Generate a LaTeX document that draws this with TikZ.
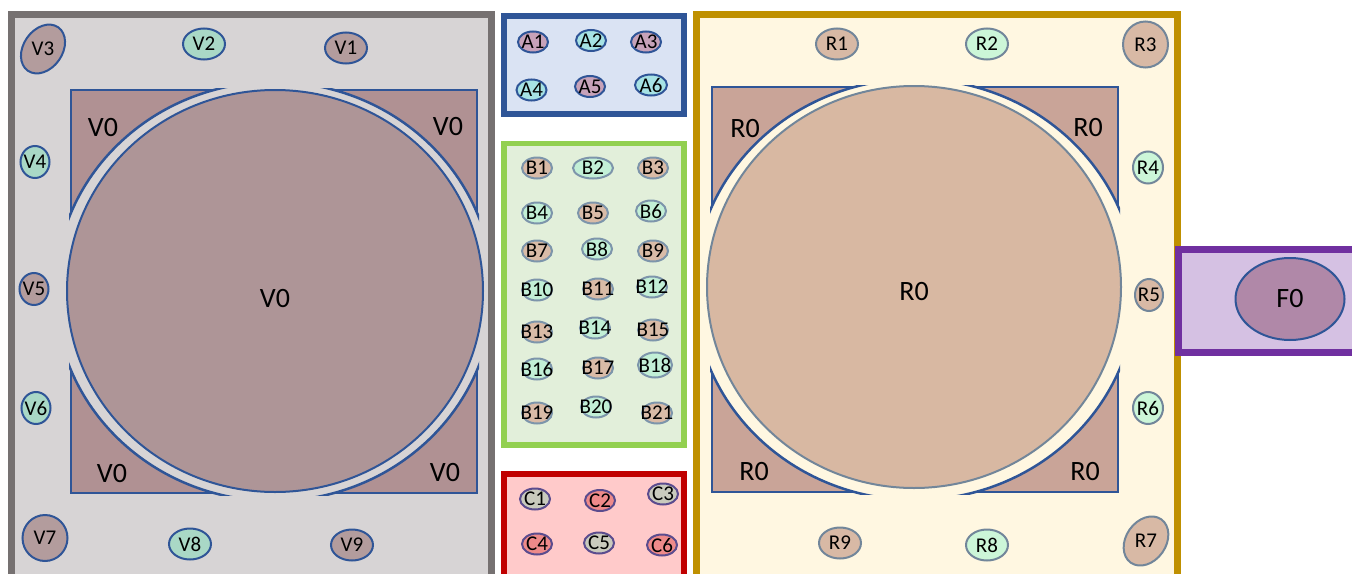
\documentclass[tikz,border=0pt]{standalone}
\usepackage{fontspec}
\setmainfont{Carlito}
\usetikzlibrary{shapes}

\definecolor{vframe}{HTML}{767171}
\definecolor{vback}{HTML}{D7D4D5}
\definecolor{vcorner}{HTML}{B09193}
\definecolor{vdisc}{HTML}{AE9597}
\definecolor{vbrown}{HTML}{B39C9D}
\definecolor{vgreen}{HTML}{A9D8C6}
\definecolor{ringline}{HTML}{2F5597}
\definecolor{aframe}{HTML}{2F5597}
\definecolor{aback}{HTML}{DAE3F3}
\definecolor{amauve}{HTML}{C7A2B9}
\definecolor{acyan}{HTML}{A6E2E4}
\definecolor{bframe}{HTML}{92D050}
\definecolor{bback}{HTML}{E2EFDA}
\definecolor{btan}{HTML}{D9BBA7}
\definecolor{bgreen}{HTML}{C2EFD6}
\definecolor{bline}{HTML}{7D95AB}
\definecolor{cframe}{HTML}{C00000}
\definecolor{cback}{HTML}{FFCACA}
\definecolor{cgrey}{HTML}{C9CABD}
\definecolor{cred}{HTML}{EE8A8A}
\definecolor{cline}{HTML}{5B4C8E}
\definecolor{rframe}{HTML}{BF9000}
\definecolor{rback}{HTML}{FFF7E1}
\definecolor{rcorner}{HTML}{C9A498}
\definecolor{rdisc}{HTML}{D8B8A2}
\definecolor{rtan}{HTML}{D8B9A5}
\definecolor{rgreen}{HTML}{CCF6D8}
\definecolor{rline}{HTML}{72869A}
\definecolor{fframe}{HTML}{7030A0}
\definecolor{fback}{HTML}{D5C1E3}
\definecolor{fdisc}{HTML}{B088A8}

\begin{document}
\begin{tikzpicture}[x=1pt, y=-1pt,
	box/.style={line width=7pt},
	oval/.style={ellipse, draw, line width=2pt, inner sep=0pt, minimum width=42pt, minimum height=31pt},
	dot/.style={oval, minimum width=29pt, minimum height=32pt},
	chip/.style={ellipse, draw, line width=2pt, inner sep=0pt, minimum width=30pt, minimum height=21pt},
	ovaltext/.style={font=\fontsize{21}{24}\selectfont, inner sep=0pt, draw=none},
	chiptext/.style={font=\fontsize{21}{23}\selectfont, inner sep=0pt, draw=none},
	bigtext/.style={font=\fontsize{28}{32}\selectfont, inner sep=0pt, draw=none}]
	
	\useasboundingbox (0,0) rectangle (1352,573);
	\clip (0,0) rectangle (1352,573);
	
	% V block
	\filldraw[box, draw=vframe, fill=vback] (11,14.5) rectangle (491,600);
	\filldraw[fill=vcorner, draw=ringline, line width=2.5pt] (71,90) rectangle (477,493);
	\begin{scope}
		\clip (69,88) rectangle (479,495);
		\filldraw[fill=vback, draw=ringline, line width=2.5pt] (274,291.5) ellipse [x radius=219, y radius=209.5];
	\end{scope}
	\node (v0) at (275,291) [ellipse, draw=ringline, fill=vdisc, line width=2pt, minimum width=416pt, minimum height=402pt, label={[bigtext, yshift=-8pt]center:V0}]{};
	\node (v0nw) at (103,128) [bigtext]{V0};
	\node (v0ne) at (448,127) [bigtext]{V0};
	\node (v0sw) at (112,474) [bigtext]{V0};
	\node (v0se) at (445,473) [bigtext]{V0};
	
	\begin{scope}[every label/.style={ovaltext}, every node/.append style={draw=ringline}]
		\node (v1) at (346,48) [oval, fill=vbrown, label=center:V1]{};
		\node (v2) at (204,44) [oval, fill=vgreen, label=center:V2]{};
		\node (v3) at (43,49) [oval, fill=vbrown, minimum width=53pt, minimum height=39pt, rotate=55, label=center:V3]{};
		\node (v4) at (35,162) [dot, fill=vgreen, label=center:V4]{};
		\node (v5) at (34,289) [dot, fill=vbrown, label=center:V5]{};
		\node (v6) at (36,408) [dot, fill=vgreen, label=center:V6]{};
		\node (v7) at (45,538) [oval, fill=vbrown, minimum width=45pt, minimum height=46pt, label=center:V7]{};
		\node (v8) at (190,544) [oval, fill=vgreen, label=center:V8]{};
		\node (v9) at (352,545) [oval, fill=vbrown, label=center:V9]{};
	\end{scope}
	
	% A block
	\filldraw[line width=6pt, draw=aframe, fill=aback] (504,15.5) rectangle (684,113.5);
	\begin{scope}[every label/.style={chiptext}, every node/.append style={draw=ringline}]
		\node (a1) at (533,42) [chip, fill=amauve, label=center:A1]{};
		\node (a2) at (591,40.5) [chip, fill=acyan, label=center:A2]{};
		\node (a3) at (646,42) [chip, fill=amauve, label=center:A3]{};
		\node (a4) at (531.5,90) [chip, fill=acyan, label=center:A4]{};
		\node (a5) at (590,86.5) [chip, fill=amauve, label=center:A5]{};
		\node (a6) at (651,85) [chip, fill=acyan, minimum width=32pt, label=center:A6]{};
	\end{scope}
	
	% B block
	\filldraw[line width=5.5pt, draw=bframe, fill=bback] (504,143.5) rectangle (684,445);
	\begin{scope}[every label/.style={chiptext}, every node/.append style={draw=bline}]
		\node (b1) at (537,168) [chip, fill=btan, label=center:B1]{};
		\node (b2) at (593,168) [chip, fill=bgreen, minimum width=40pt, label=center:B2]{};
		\node (b3) at (653,168) [chip, fill=btan, label=center:B3]{};
		\node (b4) at (537,213) [chip, fill=bgreen, label=center:B4]{};
		\node (b5) at (593,213) [chip, fill=btan, label=center:B5]{};
		\node (b6) at (651,211) [chip, fill=bgreen, label=center:B6]{};
		\node (b7) at (537,251) [chip, fill=btan, label=center:B7]{};
		\node (b8) at (597,249) [chip, fill=bgreen, label=center:B8]{};
		\node (b9) at (653,251) [chip, fill=btan, label=center:B9]{};
		\node (b10) at (537,290) [chip, fill=bgreen, label=center:B10]{};
		\node (b11) at (598,289) [chip, fill=btan, label=center:B11]{};
		\node (b12) at (652,287) [chip, fill=bgreen, label=center:B12]{};
		\node (b13) at (537,332) [chip, fill=btan, label=center:B13]{};
		\node (b14) at (595,328) [chip, fill=bgreen, label=center:B14]{};
		\node (b15) at (653,330) [chip, fill=btan, label=center:B15]{};
		\node (b16) at (537,369) [chip, fill=bgreen, label=center:B16]{};
		\node (b17) at (598,368) [chip, fill=btan, label=center:B17]{};
		\node (b18) at (655,365) [chip, fill=bgreen, minimum width=34pt, minimum height=25pt, label=center:B18]{};
		\node (b19) at (537,413) [chip, fill=btan, label=center:B19]{};
		\node (b20) at (596,407) [chip, fill=bgreen, label=center:B20]{};
		\node (b21) at (657,413) [chip, fill=btan, label=center:B21]{};
	\end{scope}
	
	% C block
	\filldraw[line width=6pt, draw=cframe, fill=cback] (504,474) rectangle (684,600);
	\begin{scope}[every label/.style={chiptext}, every node/.append style={draw=cline}]
		\node (c1) at (535,499) [chip, fill=cgrey, label=center:C1]{};
		\node (c2) at (600,500.5) [chip, fill=cred, label=center:C2]{};
		\node (c3) at (663,494) [chip, fill=cgrey, label=center:C3]{};
		\node (c4) at (537,544) [chip, fill=cred, label=center:C4]{};
		\node (c5) at (599,543) [chip, fill=cgrey, label=center:C5]{};
		\node (c6) at (662,545) [chip, fill=cred, label=center:C6]{};
	\end{scope}
	
	% R block
	\filldraw[box, draw=rframe, fill=rback] (696,14.5) rectangle (1177,600);
	\filldraw[fill=rcorner, draw=ringline, line width=2.5pt] (712,87) rectangle (1118,492);
	\begin{scope}
		\clip (710,85) rectangle (1120,494);
		\filldraw[fill=rback, draw=ringline, line width=2.5pt] (915,289.5) ellipse [x radius=221, y radius=210.5];
	\end{scope}
	\node (r0) at (914,287) [ellipse, draw=rline, fill=rdisc, line width=2pt, minimum width=414pt, minimum height=402pt, label={[bigtext, yshift=-5pt]center:R0}]{};
	\node (r0nw) at (745,129) [bigtext]{R0};
	\node (r0ne) at (1088,128) [bigtext]{R0};
	\node (r0sw) at (754,472) [bigtext]{R0};
	\node (r0se) at (1085,472) [bigtext]{R0};
	
	\begin{scope}[every label/.style={ovaltext}, every node/.append style={draw=rline}]
		\node (r1) at (837,44) [oval, fill=rtan, label=center:R1]{};
		\node (r2) at (987,44) [oval, fill=rgreen, label=center:R2]{};
		\node (r3) at (1145.5,44.5) [oval, fill=rtan, minimum width=45pt, minimum height=46pt, label=center:R3]{};
		\node (r4) at (1148,167.5) [dot, fill=rgreen, minimum width=30pt, label=center:R4]{};
		\node (r5) at (1149,295) [dot, fill=rtan, minimum width=28pt, label=center:R5]{};
		\node (r6) at (1148,408) [dot, fill=rgreen, minimum width=30pt, label=center:R6]{};
		\node (r7) at (1146,541) [oval, fill=rtan, minimum width=53pt, minimum height=40pt, rotate=55, label=center:R7]{};
		\node (r8) at (987,545) [oval, fill=rgreen, label=center:R8]{};
		\node (r9) at (840,543) [oval, fill=rtan, label=center:R9]{};
	\end{scope}
	
	% F block
	\filldraw[box, draw=fframe, fill=fback] (1178.5,249.5) rectangle (1380,352.5);
	\node (f0) at (1290,299) [ellipse, draw=ringline, fill=fdisc, line width=2pt, minimum width=109pt, minimum height=82pt, label={[bigtext]center:F0}]{};
	
\end{tikzpicture}
\end{document}
